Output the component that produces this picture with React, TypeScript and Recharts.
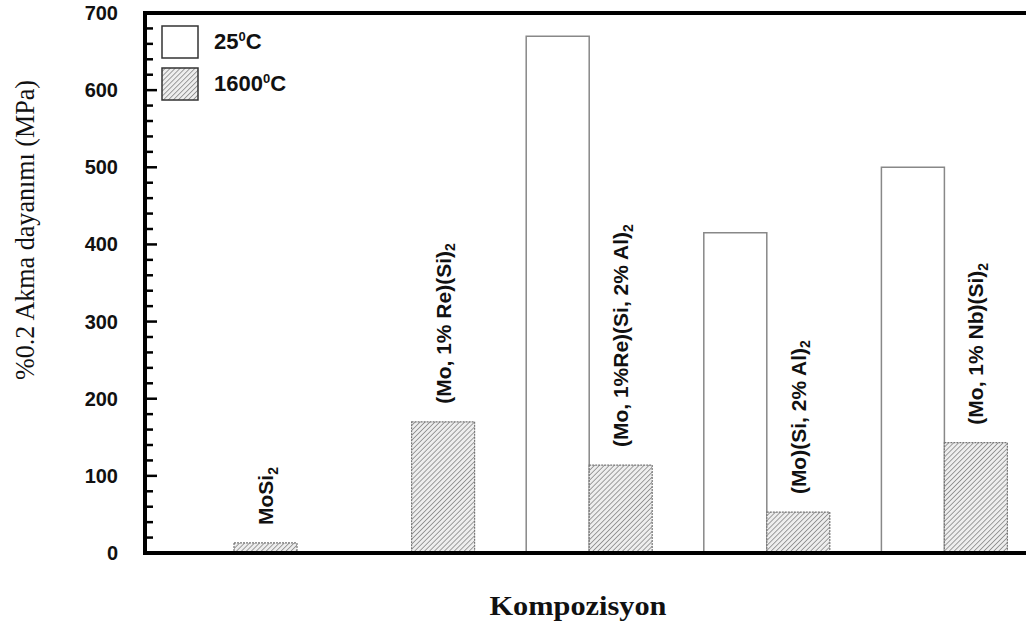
import React from 'react';
import { BarChart, Bar, XAxis, YAxis, ReferenceLine, LabelList, Legend, Label } from 'recharts';

// alloy compositions (trailing "2" is drawn as a subscript)
const compositions = [
  'MoSi2',
  '(Mo, 1% Re)(Si)2',
  '(Mo, 1%Re)(Si, 2% Al)2',
  '(Mo)(Si, 2% Al)2',
  '(Mo, 1% Nb)(Si)2',
];
// 0.2% yield strength, MPa
const strength25C = [null, null, 670, 415, 500];
const strength1600C = [13, 170, 114, 53, 143];
const majorTicks = [0, 100, 200, 300, 400, 500, 600, 700];
const minorStep = 20;

const data = compositions.map((name, i) => ({
  name,
  t25: strength25C[i],
  t1600: strength1600C[i],
}));

const yMax = majorTicks[majorTicks.length - 1];
const yTicks: number[] = [];
for (let v = 0; v <= yMax; v += minorStep) yTicks.push(v);

const SANS = 'Liberation Sans, Arial, Helvetica, sans-serif';
const SERIF = 'Liberation Serif, Times New Roman, serif';

const YTick = (props: any) => {
  const { x, y, payload } = props;
  const v = payload.value;
  const major = majorTicks.includes(v);
  return (
    <g>
      <line x1={x} x2={x + (major ? 12 : 8)} y1={y} y2={y} stroke="#000" strokeWidth={2.5} />
      {major && (
        <text
          x={x - 27}
          y={y}
          textAnchor="end"
          dominantBaseline="central"
          fontFamily={SANS}
          fontWeight="bold"
          fontSize={20}
          fill="#111"
        >
          {v}
        </text>
      )}
    </g>
  );
};

const BarName = (props: any) => {
  const { x, y, width, value } = props;
  const text = String(value);
  const cx = x + width / 2;
  return (
    <text
      transform={`translate(${cx},${y - 18}) rotate(-90)`}
      fontFamily={SANS}
      fontWeight="bold"
      fontSize={21}
      fill="#111"
      dominantBaseline="central"
    >
      {text.slice(0, -1)}
      <tspan dy={7} fontSize={14}>
        {text.slice(-1)}
      </tspan>
    </text>
  );
};

const YTitle = () => (
  <text
    transform="translate(34,230) rotate(-90)"
    textAnchor="middle"
    fontFamily={SERIF}
    fontSize={27}
    textLength={300}
    lengthAdjust="spacingAndGlyphs"
    fill="#111"
  >
    %0.2 Akma dayanımı (MPa)
  </text>
);

const XTitle = () => (
  <text
    x={578}
    y={615}
    textAnchor="middle"
    fontFamily={SERIF}
    fontWeight="bold"
    fontSize={28}
    textLength={177}
    lengthAdjust="spacingAndGlyphs"
    fill="#111"
  >
    Kompozisyon
  </text>
);

const LegendBox = () => (
  <div style={{ fontFamily: SANS, fontWeight: 'bold', fontSize: 22, color: '#111' }}>
    <div style={{ display: 'flex', alignItems: 'center', height: 42 }}>
      <svg width={38} height={34}>
        <rect x={1} y={1} width={36} height={32} fill="#fff" stroke="#333" strokeWidth={1.5} />
      </svg>
      <span style={{ marginLeft: 15 }}>
        25<sup style={{ fontSize: 13 }}>0</sup>C
      </span>
    </div>
    <div style={{ display: 'flex', alignItems: 'center', height: 42 }}>
      <svg width={38} height={34}>
        <rect x={1} y={1} width={36} height={32} fill="url(#hatch)" stroke="#333" strokeWidth={1.5} />
      </svg>
      <span style={{ marginLeft: 15 }}>
        1600<sup style={{ fontSize: 13 }}>0</sup>C
      </span>
    </div>
  </div>
);

export default function App() {
  return (
    <div
      style={{
        position: 'absolute',
        left: 0,
        top: 0,
        width: 1026,
        height: 629,
        overflow: 'hidden',
        background: '#fff',
      }}
    >
      <BarChart
        width={1050}
        height={629}
        data={data}
        margin={{ top: 13, right: 17, bottom: 0, left: 0 }}
        barCategoryGap={26}
        barGap={0}
      >
        <defs>
          <pattern id="hatch" width={3.5} height={3.5} patternUnits="userSpaceOnUse" patternTransform="rotate(45)">
            <rect width={3.5} height={3.5} fill="#eeeeee" />
            <line x1={0} y1={0} x2={0} y2={3.5} stroke="#707070" strokeWidth={1.3} />
          </pattern>
        </defs>
        <XAxis
          dataKey="name"
          tick={false}
          tickLine={false}
          height={76}
          axisLine={{ stroke: '#000', strokeWidth: 4, strokeLinecap: 'square' }}
        >
          <Label content={XTitle} />
        </XAxis>
        <YAxis
          domain={[0, yMax]}
          ticks={yTicks}
          interval={0}
          width={145}
          tick={YTick}
          tickLine={false}
          tickSize={0}
          tickMargin={0}
          axisLine={{ stroke: '#000', strokeWidth: 4, strokeLinecap: 'square' }}
        >
          <Label content={YTitle} />
        </YAxis>
        <ReferenceLine y={yMax} stroke="#000" strokeWidth={4} />
        {/* middle/center/horizontal keeps the legend from reserving plot space */}
        <Legend
          layout="horizontal"
          verticalAlign="middle"
          align="center"
          content={LegendBox}
          wrapperStyle={{ top: 21, left: 161, width: 200, bottom: 'auto', right: 'auto' }}
        />
        <Bar dataKey="t25" fill="#fff" stroke="#888" strokeWidth={1.5} isAnimationActive={false} />
        <Bar
          dataKey="t1600"
          fill="url(#hatch)"
          stroke="#777"
          strokeWidth={1.2}
          strokeDasharray="2 1"
          isAnimationActive={false}
        >
          <LabelList dataKey="name" content={BarName} />
        </Bar>
      </BarChart>
    </div>
  );
}
